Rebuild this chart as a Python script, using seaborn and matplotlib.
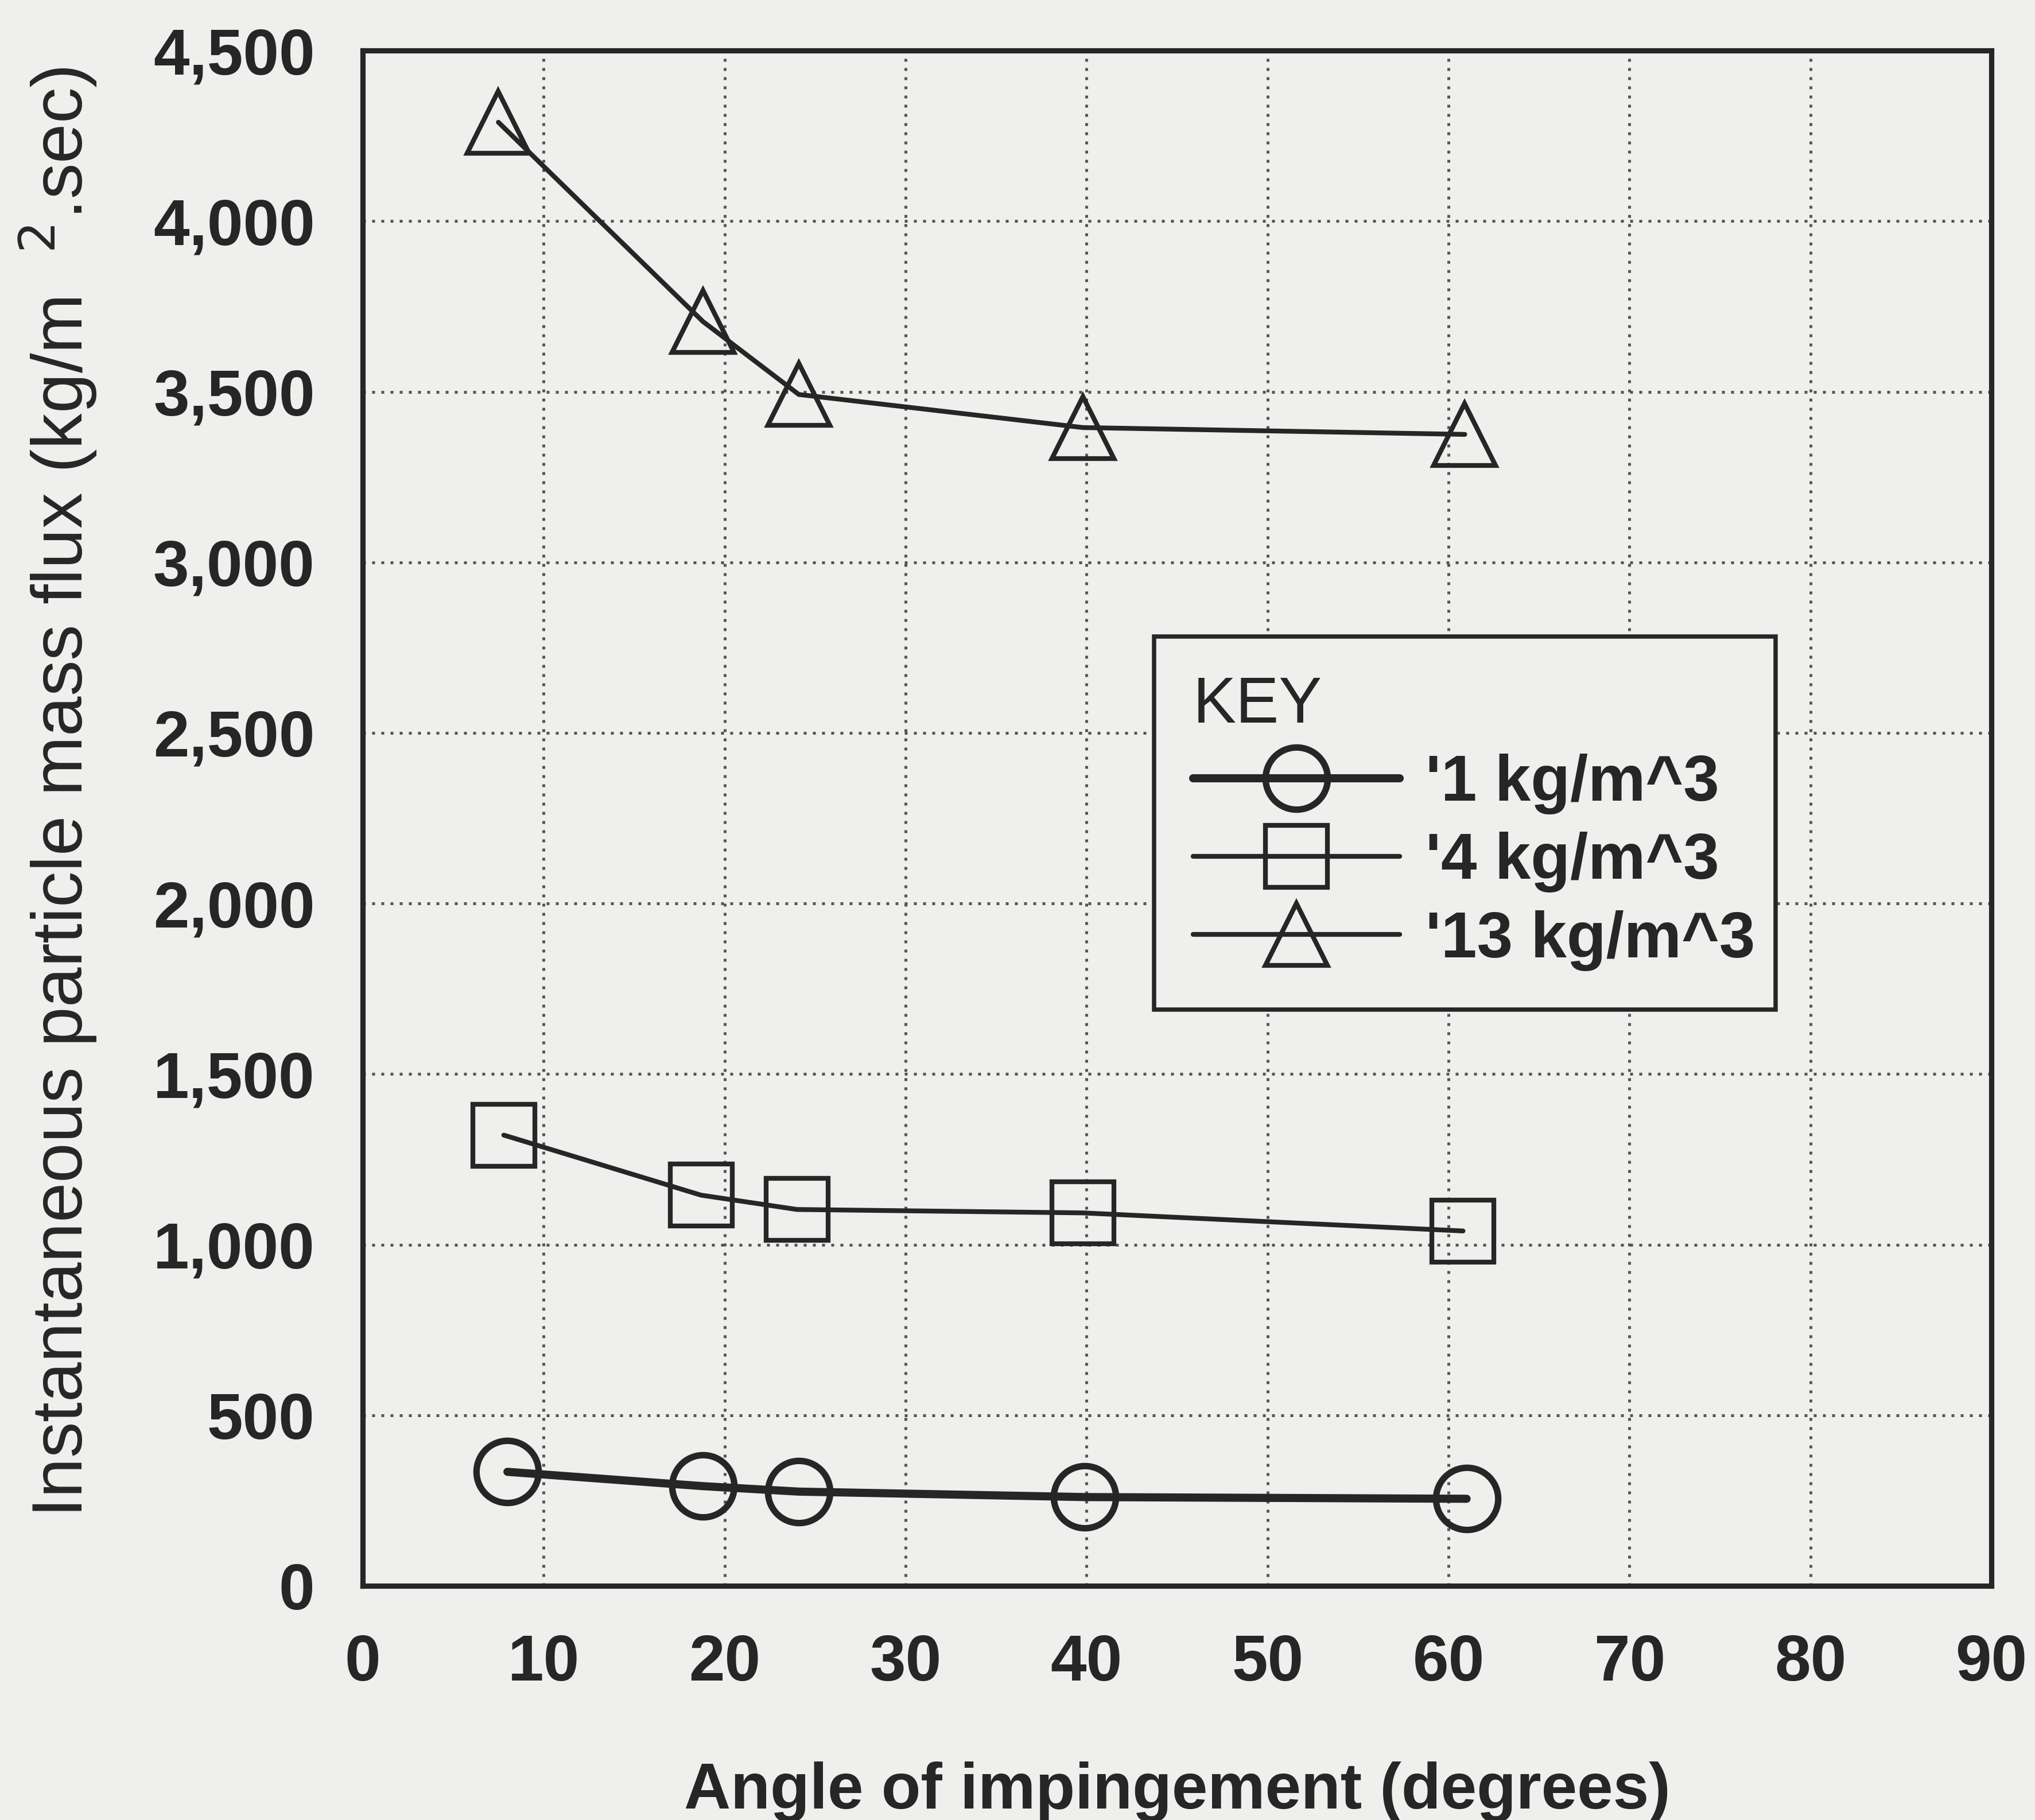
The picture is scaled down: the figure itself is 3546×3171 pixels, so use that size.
import matplotlib
matplotlib.use("Agg")
import matplotlib.pyplot as plt
import seaborn as sns
import pandas as pd
from matplotlib.ticker import MultipleLocator, FuncFormatter

# ---- data ----
angle_1 = [8.0, 18.8, 24.1, 39.9, 61.0]
flux_1 = [334, 292, 276, 260, 255]
angle_4 = [7.8, 18.7, 24.0, 39.8, 60.8]
flux_4 = [1321, 1145, 1103, 1093, 1040]
angle_13 = [7.5, 18.8, 24.1, 39.8, 60.9]
flux_13 = [4290, 3706, 3492, 3395, 3375]
labels = ["'1 kg/m^3", "'4 kg/m^3", "'13 kg/m^3"]
x_ticks = [0, 10, 20, 30, 40, 50, 60, 70, 80, 90]
y_ticks = [0, 500, 1000, 1500, 2000, 2500, 3000, 3500, 4000, 4500]

BG = "#efefed"
INK = "#262626"

sns.set_theme(style="white")
plt.rcParams["font.family"] = ["Liberation Sans", "DejaVu Sans"]
plt.rcParams["text.color"] = INK
plt.rcParams["axes.labelcolor"] = INK
plt.rcParams["xtick.color"] = INK
plt.rcParams["ytick.color"] = INK

fig = plt.figure(figsize=(3546 / 300, 3171 / 300), dpi=300, facecolor=BG)
ax = fig.add_axes([0.1782, 0.1287, 0.8004, 0.8435])
ax.set_facecolor(BG)

series = [
    (angle_1, flux_1, labels[0], "o", 3.4, 2.7),
    (angle_4, flux_4, labels[1], "s", 2.0, 2.0),
    (angle_13, flux_13, labels[2], "^", 2.0, 2.0),
]
for xs, ys, lab, mk, lw, mew in series:
    df = pd.DataFrame({"angle": xs, "flux": ys})
    sns.lineplot(data=df, x="angle", y="flux", ax=ax, color=INK, lw=lw,
                 marker=mk, markersize=26, markerfacecolor="none",
                 markeredgecolor=INK, markeredgewidth=mew, label=lab,
                 zorder=3)

ax.set_xlim(x_ticks[0], x_ticks[-1])
ax.set_ylim(y_ticks[0], y_ticks[-1])
ax.set_xticks(x_ticks)
ax.set_yticks(y_ticks)
ax.xaxis.set_minor_locator(MultipleLocator(5))
ax.yaxis.set_minor_locator(MultipleLocator(100))
ax.yaxis.set_major_formatter(FuncFormatter(lambda v, p: f"{int(v):,}"))

ax.tick_params(axis="both", which="major", direction="in", length=16, width=1.8,
               labelsize=27, colors=INK)
ax.tick_params(axis="x", which="major", pad=20)
ax.tick_params(axis="y", which="major", pad=20)
ax.tick_params(axis="both", which="minor", direction="in", length=7, width=1.6, colors=INK)
for lab in ax.get_xticklabels() + ax.get_yticklabels():
    lab.set_fontweight("bold")

ax.grid(True, which="major", color="#555555", linestyle=(0, (1, 2.2)), linewidth=1.2)
ax.set_axisbelow(True)
for sp in ax.spines.values():
    sp.set_visible(True)
    sp.set_color(INK)
    sp.set_linewidth(2.2)

ax.set_xlabel("Angle of impingement (degrees)", fontsize=27, fontweight="bold", labelpad=28)
ax.set_ylabel("Instantaneous particle mass flux (kg/m  $^{2}$.sec)", fontsize=30)
ax.yaxis.set_label_coords(-0.162, 0.517)

leg = ax.legend(loc="upper left", bbox_to_anchor=(0.486, 0.3787, 0.3815, 0.2396),
                mode="expand", borderaxespad=0, title="KEY", alignment="left",
                fontsize=27, title_fontsize=27, handlelength=3.2, handletextpad=0.4,
                labelspacing=0.27, borderpad=0.6, frameon=True, fancybox=False,
                framealpha=1, edgecolor=INK, facecolor=BG)
leg.get_frame().set_linewidth(1.8)
for t in leg.get_texts():
    t.set_fontweight("bold")

fig.savefig("out.png", dpi=300, facecolor=BG)
